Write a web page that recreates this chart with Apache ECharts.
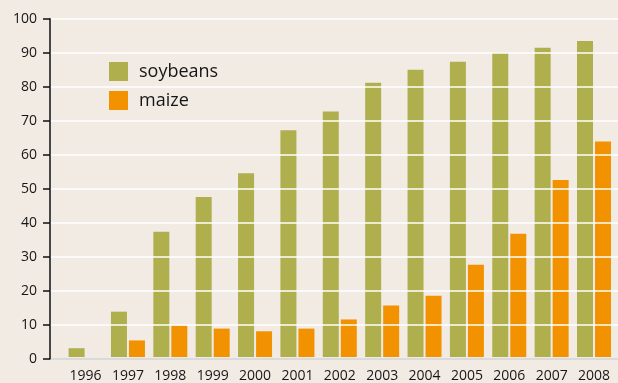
<!DOCTYPE html>
<html>
<head>
<meta charset="utf-8">
<style>
  html, body { margin: 0; padding: 0; background: #f2ebe4; }
  #chart { width: 618px; height: 383px; }
</style>
<script src="https://cdn.jsdelivr.net/npm/echarts@6/dist/echarts.min.js"></script>
</head>
<body>
<div id="chart"></div>
<script>
// Share of area planted with GM varieties, per year (%)
const years = ['1996','1997','1998','1999','2000','2001','2002','2003','2004','2005','2006','2007','2008'];
const soybeans = [2.6, 13.4, 37.0, 47.3, 54.3, 67.0, 72.6, 81.1, 84.9, 87.3, 89.9, 91.4, 93.4];
const maize = [null, 4.9, 9.3, 8.4, 7.6, 8.4, 11.1, 15.2, 18.1, 27.3, 36.4, 52.3, 63.7];
const yTicks = [0, 10, 20, 30, 40, 50, 60, 70, 80, 90, 100];

const FONT = '"Open Sans", "DejaVu Sans", sans-serif';
const TEXT = '#161616';
const chart = echarts.init(document.getElementById('chart'), null, { renderer: 'canvas' });

chart.setOption({
  backgroundColor: '#f2ebe4',
  animation: false,
  legend: {
    orient: 'vertical',
    left: 109,
    top: 62,
    padding: 0,
    itemWidth: 19,
    itemHeight: 19,
    itemGap: 10,
    icon: 'rect',
    textStyle: { fontFamily: FONT, fontSize: 18, color: TEXT, padding: [0, 0, 0, 6] },
    data: ['soybeans', 'maize']
  },
  grid: [
    // frame grid: value axis, gridlines and baseline across the full width
    { left: 50, right: 0, top: 18.7, bottom: 24.3 },
    // bar grid
    { left: 64.4, right: 2.8, top: 18.7, bottom: 24.3 }
  ],
  xAxis: [
    {
      gridIndex: 0, type: 'value', min: 0, max: 1,
      axisLine: { show: true, lineStyle: { color: '#444', width: 1.5 } },
      axisTick: { show: false }, axisLabel: { show: false }, splitLine: { show: false }
    },
    {
      gridIndex: 1, type: 'category', data: years,
      axisLine: { show: false }, axisTick: { show: false },
      axisLabel: { fontFamily: FONT, fontSize: 14, color: TEXT, margin: 12 }
    }
  ],
  yAxis: [
    {
      gridIndex: 0, type: 'value', min: yTicks[0], max: yTicks[yTicks.length - 1], interval: 10,
      z: 5,
      axisLine: { show: true, lineStyle: { color: '#111', width: 1.5 } },
      axisTick: { show: true, length: 7, lineStyle: { color: '#111', width: 1.5 } },
      axisLabel: { fontFamily: FONT, fontSize: 14, color: TEXT, margin: 13 },
      splitLine: { show: true, lineStyle: { color: 'rgba(255,255,255,0.75)', width: 2 } }
    },
    {
      gridIndex: 1, type: 'value', min: 0, max: 100, show: false
    }
  ],
  series: [
    {
      name: 'soybeans', type: 'bar', xAxisIndex: 1, yAxisIndex: 1,
      data: soybeans, barWidth: 16, barGap: '12.5%',
      itemStyle: { color: '#afaf4d' }
    },
    {
      name: 'maize', type: 'bar', xAxisIndex: 1, yAxisIndex: 1,
      data: maize, barWidth: 16, barGap: '12.5%',
      itemStyle: { color: '#f39200' }
    }
  ]
});
</script>
</body>
</html>
